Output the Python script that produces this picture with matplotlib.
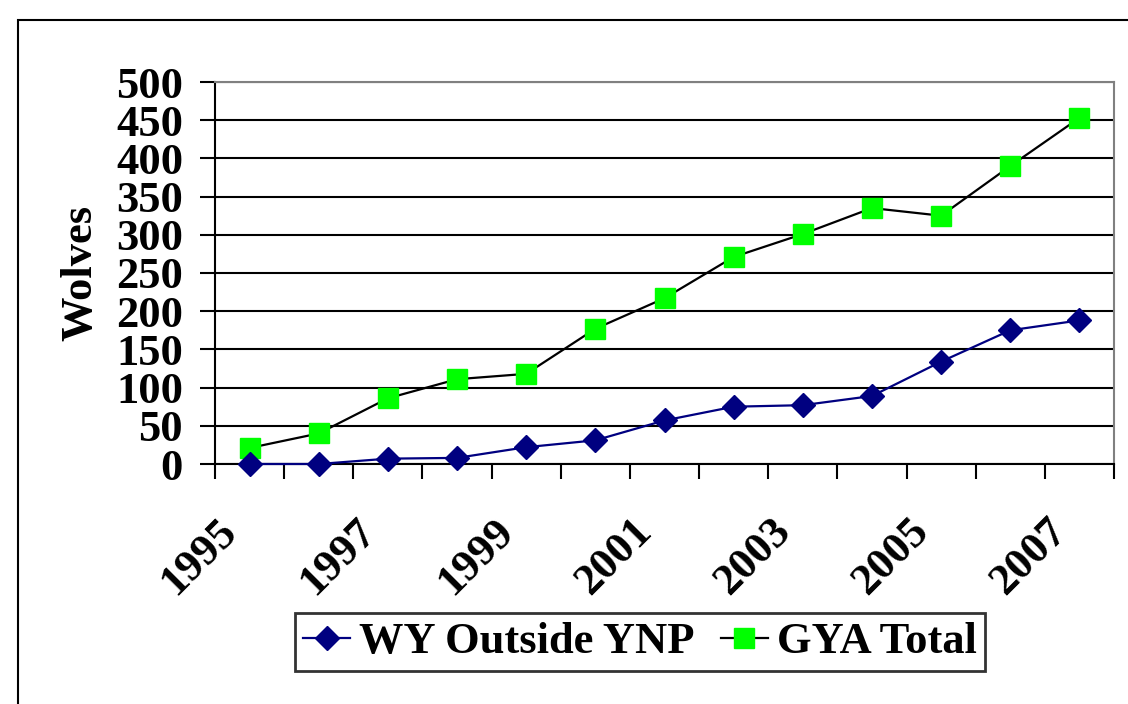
import matplotlib.pyplot as plt
from matplotlib.patches import Rectangle

years = [1995, 1996, 1997, 1998, 1999, 2000, 2001, 2002, 2003, 2004, 2005, 2006, 2007]
wy_outside = [0, 0, 7, 8, 22, 31, 57, 75, 77, 89, 134, 175, 188]
gya_total = [21, 40, 86, 111, 118, 177, 217, 271, 301, 335, 325, 390, 453]
y_ticks = [0, 50, 100, 150, 200, 250, 300, 350, 400, 450, 500]

FS = 32

plt.rcParams['font.family'] = ['Liberation Serif', 'DejaVu Serif']
plt.rcParams['font.weight'] = 'bold'

fig = plt.figure(figsize=(11.28, 7.04), dpi=100)
ax = fig.add_axes([215 / 1128, 1 - 464 / 704, (1114 - 215) / 1128, (464 - 82) / 704])

# outer frame of the chart area
fig.patches.append(Rectangle((18 / 1128, -0.1), 2, 1 - 20 / 704 + 0.1,
                             transform=fig.transFigure, fill=False,
                             edgecolor='black', linewidth=1.5))

x = list(range(len(years)))
ax.plot(x, wy_outside, color='#000080', linewidth=1.6, marker='D',
        markersize=12.5, markerfacecolor='#000080', markeredgecolor='#000080',
        label='WY Outside YNP', zorder=4, clip_on=False)
ax.plot(x, gya_total, color='black', linewidth=1.6, marker='s',
        markersize=14, markerfacecolor='#00FF00', markeredgecolor='#00FF00',
        label='GYA Total', zorder=3, clip_on=False)

ax.set_xlim(-0.5, len(years) - 0.5)
ax.set_ylim(0, 500)
ax.set_yticks(y_ticks)
ax.set_yticklabels([str(v) for v in y_ticks], fontsize=FS, fontweight='bold')
ax.yaxis.grid(True, color='black', linewidth=1.5)
ax.set_axisbelow(True)
ax.tick_params(axis='y', length=11, width=1.5, pad=12)

ax.set_xticks([i - 0.5 for i in range(len(years) + 1)])
ax.set_xticklabels([])
ax.tick_params(axis='x', length=11, width=1.5)
for i, yr in enumerate(years):
    if i % 2 == 0:
        ax.text(i - 0.27, -80, str(yr), rotation=45, ha='right', va='center',
                rotation_mode='anchor', fontsize=FS, fontweight='bold')

ax.set_ylabel('Wolves', fontsize=FS, fontweight='bold', labelpad=11)

for side in ['left', 'bottom']:
    ax.spines[side].set_color('black')
    ax.spines[side].set_linewidth(1.5)
for side in ['top', 'right']:
    ax.spines[side].set_color('#808080')
    ax.spines[side].set_linewidth(1.5)

leg = fig.legend(loc='center', bbox_to_anchor=(640 / 1128, 1 - 642 / 704), ncol=2,
                 frameon=True, fancybox=False, handlelength=1.05,
                 handletextpad=0.2, columnspacing=0.6, borderpad=0.2,
                 borderaxespad=0, prop={'weight': 'bold', 'size': FS})
leg.get_frame().set_edgecolor('black')
leg.get_frame().set_linewidth(2)

plt.savefig('out.png', dpi=100)
